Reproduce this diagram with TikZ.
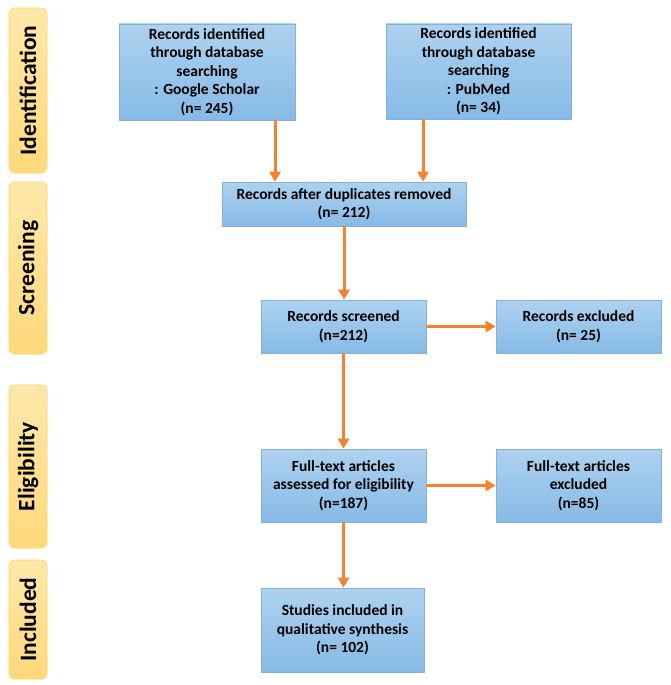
\documentclass[tikz,border=0pt]{standalone}
\usepackage{fontspec}
\setmainfont{Carlito}
\usepackage{xcolor}
\usepackage{tikz}
\usetikzlibrary{arrows.meta,positioning}
\definecolor{boxtop}{HTML}{AED2EF}
\definecolor{boxbot}{HTML}{86BAE6}
\definecolor{boxline}{HTML}{7FB2DF}
\definecolor{stagelight}{HTML}{FFE8AA}
\definecolor{stagedark}{HTML}{FFD97A}
\definecolor{stageline}{HTML}{FFD45E}
\definecolor{arrowcol}{HTML}{F5822F}

\begin{document}
\begin{tikzpicture}[x=1pt,y=-1pt,
  box/.style={draw=boxline,line width=0.6pt,top color=boxtop,bottom color=boxbot,
              align=center,inner sep=2pt,
              font=\fontsize{15.5}{18.5}\selectfont\bfseries},
  stagebox/.style={draw=stageline,line width=0.8pt,rounded corners=6pt,rotate=90,
              top color=stagelight,bottom color=stagedark,minimum height=38pt,
              inner sep=0pt,font=\fontsize{23.5}{26}\selectfont\bfseries},
  edge/.style={-{Triangle[length=10pt,width=11pt]},line width=3pt,draw=arrowcol}]
\useasboundingbox (0,0) rectangle (671,685);
% phases
\node[stagebox,minimum width=165pt] (ident) at (28,90.5) {Identification};
\node[stagebox,minimum width=172pt] (screen) at (28,268) {Screening};
\node[stagebox,minimum width=163pt] (elig) at (28,466.5) {Eligibility};
\node[stagebox,minimum width=119pt] (incl) at (28,619.5) {Included};
% records
\node[box,minimum width=176pt,minimum height=96pt] (google) at (207,72)
  {Records identified\\through database\\searching\\: Google Scholar\\(n= 245)};
\node[box,minimum width=185pt,minimum height=95pt] (pubmed) at (478.5,71.5)
  {Records identified\\through database\\searching\\: PubMed\\(n= 34)};
\node[box,minimum width=244pt,minimum height=44pt] (dupl) at (344,204)
  {Records after duplicates removed\\(n= 212)};
\node[box,minimum width=165pt,minimum height=53pt] (screened) at (343.5,326.5)
  {Records screened\\(n=212)};
\node[box,minimum width=165pt,minimum height=53pt] (excluded) at (578.5,326.5)
  {Records excluded\\(n= 25)};
\node[box,minimum width=165pt,minimum height=73pt] (fulltext) at (343.5,485.5)
  {Full-text articles\\assessed for eligibility\\(n=187)};
\node[box,minimum width=165pt,minimum height=73pt] (ftexcl) at (578.5,485.5)
  {Full-text articles\\excluded\\(n=85)};
\node[box,minimum width=163pt,minimum height=84pt] (studies) at (342.5,630)
  {Studies included in\\qualitative synthesis\\(n= 102)};
% arrows
\draw[edge] ([xshift=68pt]google.south) -- ([xshift=68pt]google.south |- dupl.north);
\draw[edge] ([xshift=-55.5pt]pubmed.south) -- ([xshift=-55.5pt]pubmed.south |- dupl.north);
\draw[edge] (dupl.south) -- (dupl.south |- screened.north);
\draw[edge] (screened) -- (excluded);
\draw[edge] (screened.south) -- (screened.south |- fulltext.north);
\draw[edge] (fulltext) -- (ftexcl);
\draw[edge] (fulltext.south) -- (fulltext.south |- studies.north);
\end{tikzpicture}
\end{document}
